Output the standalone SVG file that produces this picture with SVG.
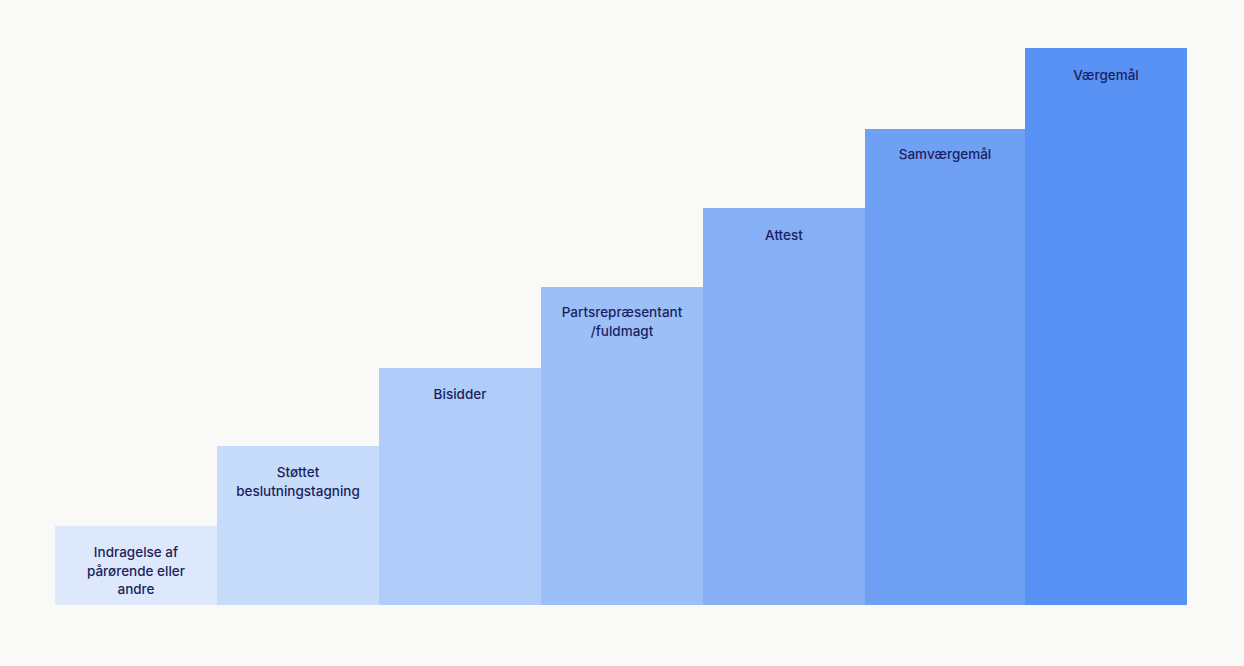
<svg xmlns="http://www.w3.org/2000/svg" width="1244" height="666" viewBox="0 0 1244 666">
<style>
text{font-family:"Inter","Liberation Sans",sans-serif;font-size:13.5px;fill:#1b1f5f;text-anchor:middle;font-weight:500}
</style>
<rect width="1244" height="666" fill="#f9f9f7"/>
<g id="n1"><rect x="55" y="526" width="162" height="79" fill="#dde8fc"/><text x="136" y="557">Indragelse af</text><text x="136" y="576">pårørende eller</text><text x="136" y="594">andre</text></g>
<g id="n2"><rect x="217" y="446" width="162" height="159" fill="#c7dbfa"/><text x="298" y="477">Støttet</text><text x="298" y="496">beslutningstagning</text></g>
<g id="n3"><rect x="379" y="368" width="162" height="237" fill="#b0cdfa"/><text x="460" y="399">Bisidder</text></g>
<g id="n4"><rect x="541" y="287" width="162" height="318" fill="#9cbff8"/><text x="622" y="317">Partsrepræsentant</text><text x="622" y="336">/fuldmagt</text></g>
<g id="n5"><rect x="703" y="208" width="162" height="397" fill="#86aff6"/><text x="784" y="240">Attest</text></g>
<g id="n6"><rect x="865" y="129" width="160" height="476" fill="#70a0f3"/><text x="945" y="159">Samværgemål</text></g>
<g id="n7"><rect x="1025" y="48" width="162" height="557" fill="#5892f5"/><text x="1106" y="80">Værgemål</text></g>
<g id="connectors"/>
</svg>
